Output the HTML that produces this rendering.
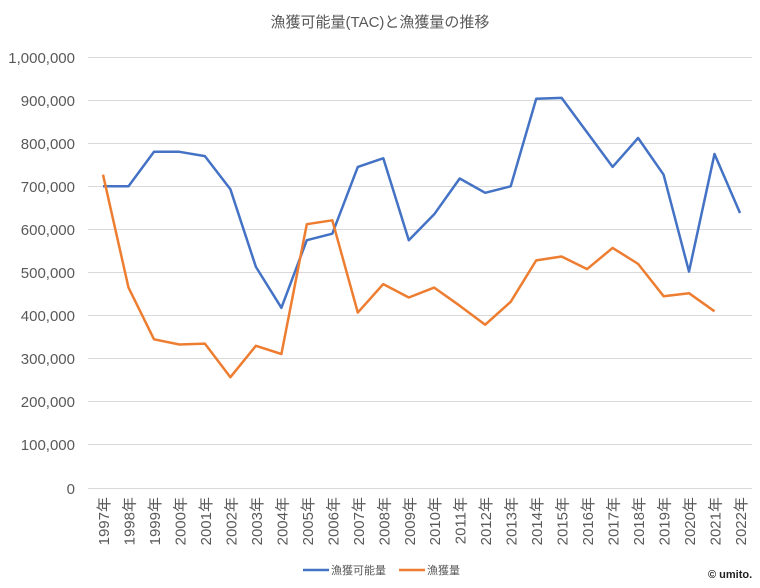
<!DOCTYPE html>
<html><head><meta charset="utf-8"><style>
body{margin:0;background:#fff;width:760px;height:583px;overflow:hidden}
svg text{font-family:"Liberation Sans","Noto Sans CJK JP",sans-serif;fill:#595959}
</style></head><body>
<svg width="760" height="583" xmlns="http://www.w3.org/2000/svg">
<text x="380" y="27" font-size="15" text-anchor="middle">漁獲可能量(TAC)と漁獲量の推移</text>
<g stroke="#d9d9d9" stroke-width="1">
<line x1="88" x2="752" y1="57.5" y2="57.5"/><line x1="88" x2="752" y1="100.5" y2="100.5"/>
<line x1="88" x2="752" y1="143.5" y2="143.5"/><line x1="88" x2="752" y1="186.5" y2="186.5"/>
<line x1="88" x2="752" y1="229.5" y2="229.5"/><line x1="88" x2="752" y1="272.5" y2="272.5"/>
<line x1="88" x2="752" y1="315.5" y2="315.5"/><line x1="88" x2="752" y1="358.5" y2="358.5"/>
<line x1="88" x2="752" y1="401.5" y2="401.5"/><line x1="88" x2="752" y1="444.5" y2="444.5"/>
<line x1="88" x2="752" y1="488.5" y2="488.5"/>
</g>
<g font-size="15" text-anchor="end">
<text x="75" y="63">1,000,000</text><text x="75" y="106">900,000</text><text x="75" y="149">800,000</text>
<text x="75" y="192">700,000</text><text x="75" y="235">600,000</text><text x="75" y="278">500,000</text>
<text x="75" y="321">400,000</text><text x="75" y="364">300,000</text><text x="75" y="407">200,000</text>
<text x="75" y="450">100,000</text><text x="75" y="494">0</text>
</g>
<g font-size="15" text-anchor="end">
<text transform="translate(109,497) rotate(-90)">1997年</text>
<text transform="translate(134.5,497) rotate(-90)">1998年</text>
<text transform="translate(160,497) rotate(-90)">1999年</text>
<text transform="translate(185.4,497) rotate(-90)">2000年</text>
<text transform="translate(210.9,497) rotate(-90)">2001年</text>
<text transform="translate(236.4,497) rotate(-90)">2002年</text>
<text transform="translate(261.9,497) rotate(-90)">2003年</text>
<text transform="translate(287.4,497) rotate(-90)">2004年</text>
<text transform="translate(312.8,497) rotate(-90)">2005年</text>
<text transform="translate(338.3,497) rotate(-90)">2006年</text>
<text transform="translate(363.8,497) rotate(-90)">2007年</text>
<text transform="translate(389.3,497) rotate(-90)">2008年</text>
<text transform="translate(414.8,497) rotate(-90)">2009年</text>
<text transform="translate(440.2,497) rotate(-90)">2010年</text>
<text transform="translate(465.7,497) rotate(-90)">2011年</text>
<text transform="translate(491.2,497) rotate(-90)">2012年</text>
<text transform="translate(516.7,497) rotate(-90)">2013年</text>
<text transform="translate(542.2,497) rotate(-90)">2014年</text>
<text transform="translate(567.6,497) rotate(-90)">2015年</text>
<text transform="translate(593.1,497) rotate(-90)">2016年</text>
<text transform="translate(618.6,497) rotate(-90)">2017年</text>
<text transform="translate(644.1,497) rotate(-90)">2018年</text>
<text transform="translate(669.6,497) rotate(-90)">2019年</text>
<text transform="translate(695,497) rotate(-90)">2020年</text>
<text transform="translate(720.5,497) rotate(-90)">2021年</text>
<text transform="translate(746,497) rotate(-90)">2022年</text>
</g>
<polyline fill="none" stroke="#4472c4" stroke-width="2.5" stroke-linejoin="round" points="103,186.3 128.5,186.3 154,151.8 179.4,151.8 204.9,156.1 230.4,189.3 255.9,266.9 281.4,307.8 306.8,240.2 332.3,233.7 357.8,166.9 383.3,158.3 408.8,240.2 434.2,214.3 459.7,178.5 485.2,192.8 510.7,186.3 536.2,98.8 561.6,97.9 587.1,132.4 612.6,166.9 638.1,138 663.6,174.7 689,271.6 714.5,154 740,213"/>
<polyline fill="none" stroke="#ed7d31" stroke-width="2.5" stroke-linejoin="round" points="103,174.7 128.5,287.6 154,339.3 179.4,344.5 204.9,343.6 230.4,377.2 255.9,345.8 281.4,354 306.8,224.2 332.3,220.3 357.8,312.6 383.3,284.1 408.8,297.5 434.2,287.6 459.7,305.7 485.2,324.7 510.7,301.8 536.2,260.4 561.6,256.5 587.1,269.1 612.6,247.9 638.1,263.9 663.6,296.2 689,293.2 714.5,311.3"/>
<line x1="303" x2="329" y1="570" y2="570" stroke="#4472c4" stroke-width="2.5"/>
<text x="331" y="574" font-size="11">漁獲可能量</text>
<line x1="399" x2="425" y1="570" y2="570" stroke="#ed7d31" stroke-width="2.5"/>
<text x="427" y="574" font-size="11">漁獲量</text>
<text x="708" y="578" font-size="11" font-weight="bold" style="fill:#222">© umito.</text>
</svg>
</body></html>
